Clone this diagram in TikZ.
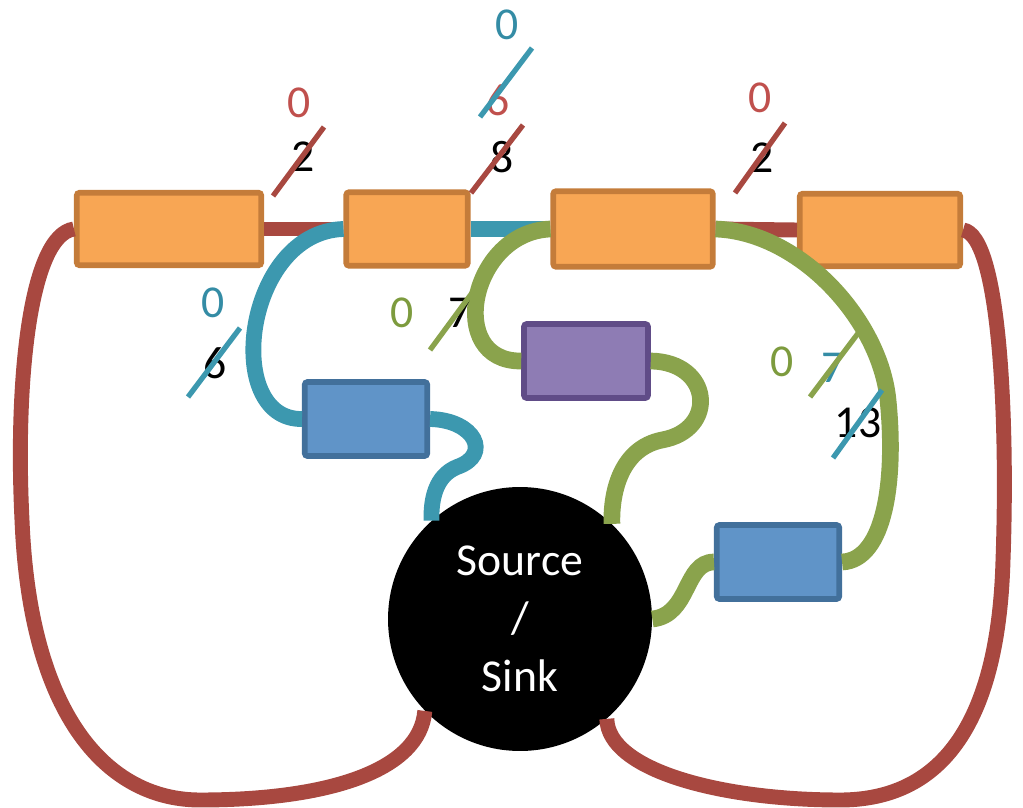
\documentclass[tikz,border=0pt]{standalone}
\usepackage{fontspec}
\setmainfont{Carlito}
\definecolor{orangefill}{RGB}{248,166,84}
\definecolor{orangeline}{RGB}{196,124,58}
\definecolor{bluefill}{RGB}{96,148,200}
\definecolor{blueline}{RGB}{66,112,155}
\definecolor{purplefill}{RGB}{142,124,180}
\definecolor{purpleline}{RGB}{96,76,135}
\definecolor{linkred}{RGB}{168,72,64}
\definecolor{linkteal}{RGB}{60,152,175}
\definecolor{linkgreen}{RGB}{138,163,76}
\definecolor{txtred}{RGB}{192,80,77}
\definecolor{txtteal}{RGB}{52,140,165}
\definecolor{txtgreen}{RGB}{125,155,62}

\begin{document}
\begin{tikzpicture}[x=0.02cm, y=-0.02cm,
        orangebox/.style={draw=orangeline, fill=orangefill, line width=3.2pt, rounded corners=1.5pt},
        bluebox/.style={draw=blueline, fill=bluefill, line width=3.2pt, rounded corners=1.5pt, minimum width=2.45cm, minimum height=1.48cm},
        purplebox/.style={draw=purpleline, fill=purplefill, line width=3.2pt, rounded corners=1.5pt, minimum width=2.48cm, minimum height=1.48cm},
        redflow/.style={draw=linkred, line width=8.5pt},
        tealflow/.style={draw=linkteal, line width=9pt},
        greenflow/.style={draw=linkgreen, line width=9.5pt},
        num/.style={inner sep=0pt, font=\fontsize{26}{30}\selectfont},
        slash/.style={line width=3pt}]
        \useasboundingbox (0,0) rectangle (1023,807);

        \node[orangebox, minimum width=3.69cm, minimum height=1.45cm] (o1) at (169,229) {};
        \node[orangebox, minimum width=2.43cm, minimum height=1.47cm] (o2) at (407,229) {};
        \node[orangebox, minimum width=3.19cm, minimum height=1.51cm] (o3) at (633,229) {};
        \node[orangebox, minimum width=3.21cm, minimum height=1.45cm] (o4) at (880,230) {};
        \node[purplebox] (pu) at (586,361) {};
        \node[bluebox] (b1) at (366,419) {};
        \node[bluebox] (b2) at (778,562) {};
        \node[circle, fill=black, minimum size=5.28cm, inner sep=0pt, text=white, align=center,
              font=\fontsize{26}{33}\selectfont] (src) at (520,619) {Source\\/\\Sink};

        \draw[redflow] (o1.east) -- (o2.west);
        \draw[tealflow] (o2.east) -- (o3.west);
        \draw[redflow] (o3.east) -- (o4.west);

        \draw[tealflow] (o2.west) .. controls (244,232) and (222,420) .. (b1.west);
        \draw[tealflow] (b1.east) .. controls (475,420) and (492,455) .. (457,467)
                .. controls (435,476) and (431,500) .. (src.132);
        \draw[greenflow] (o3.west) .. controls (470,232) and (445,362) .. (pu.west);
        \draw[greenflow] (pu.east) .. controls (712,362) and (718,430) .. (662,440)
                .. controls (622,448) and (611,490) .. (src.46);
        \draw[greenflow] (o3.east) .. controls (800,232) and (880,320) .. (888,400)
                .. controls (896,480) and (885,560) .. (b2.east);
        \draw[greenflow] (b2.west) .. controls (684,562) and (690,615) .. (src.east);
        \draw[redflow] (o1.west) .. controls (30,235) and (15,380) .. (22,520)
                .. controls (30,720) and (110,800) .. (200,800)
                .. controls (330,800) and (420,770) .. (src.224);
        \draw[redflow] (o4.east) .. controls (1000,235) and (1008,420) .. (1003,560)
                .. controls (998,740) and (930,800) .. (840,800)
                .. controls (720,800) and (608,770) .. (src.311);

        \node[num, text=txtred] (f12) at (299,103) {0};
        \node[num] (c12) at (303,157) {2};
        \draw[slash, linkred] (273,196) -- (324,127);

        \node[num, text=txtteal] (g23) at (507,25) {0};
        \node[num, text=txtred] (f23) at (498,100) {6};
        \draw[slash, linkteal] (480,117) -- (532,48);
        \node[num] (c23) at (502,157) {8};
        \draw[slash, linkred] (471,193) -- (523,125);

        \node[num, text=txtred] (f34) at (760,98) {0};
        \node[num] (c34) at (762,158) {2};
        \draw[slash, linkred] (735,193) -- (785,123);

        \node[num, text=txtteal] (fb1) at (213,303) {0};
        \node[num] (cb1) at (215,363) {6};
        \draw[slash, linkteal] (188,397) -- (240,328);

        \node[num, text=txtgreen] (fpu) at (402,313) {0};
        \node[num] (cpu) at (460,313) {7};
        \draw[slash, linkgreen] (430,350) -- (483,278);

        \node[num, text=txtgreen] (gb2) at (782,362) {0};
        \node[num, text=txtteal] (fb2) at (833,368) {7};
        \draw[slash, linkgreen] (810,397) -- (862,328);
        \node[num] (cb2) at (858,423) {13};
        \draw[slash, linkteal] (833,458) -- (882,390);
    \end{tikzpicture}
\end{document}
